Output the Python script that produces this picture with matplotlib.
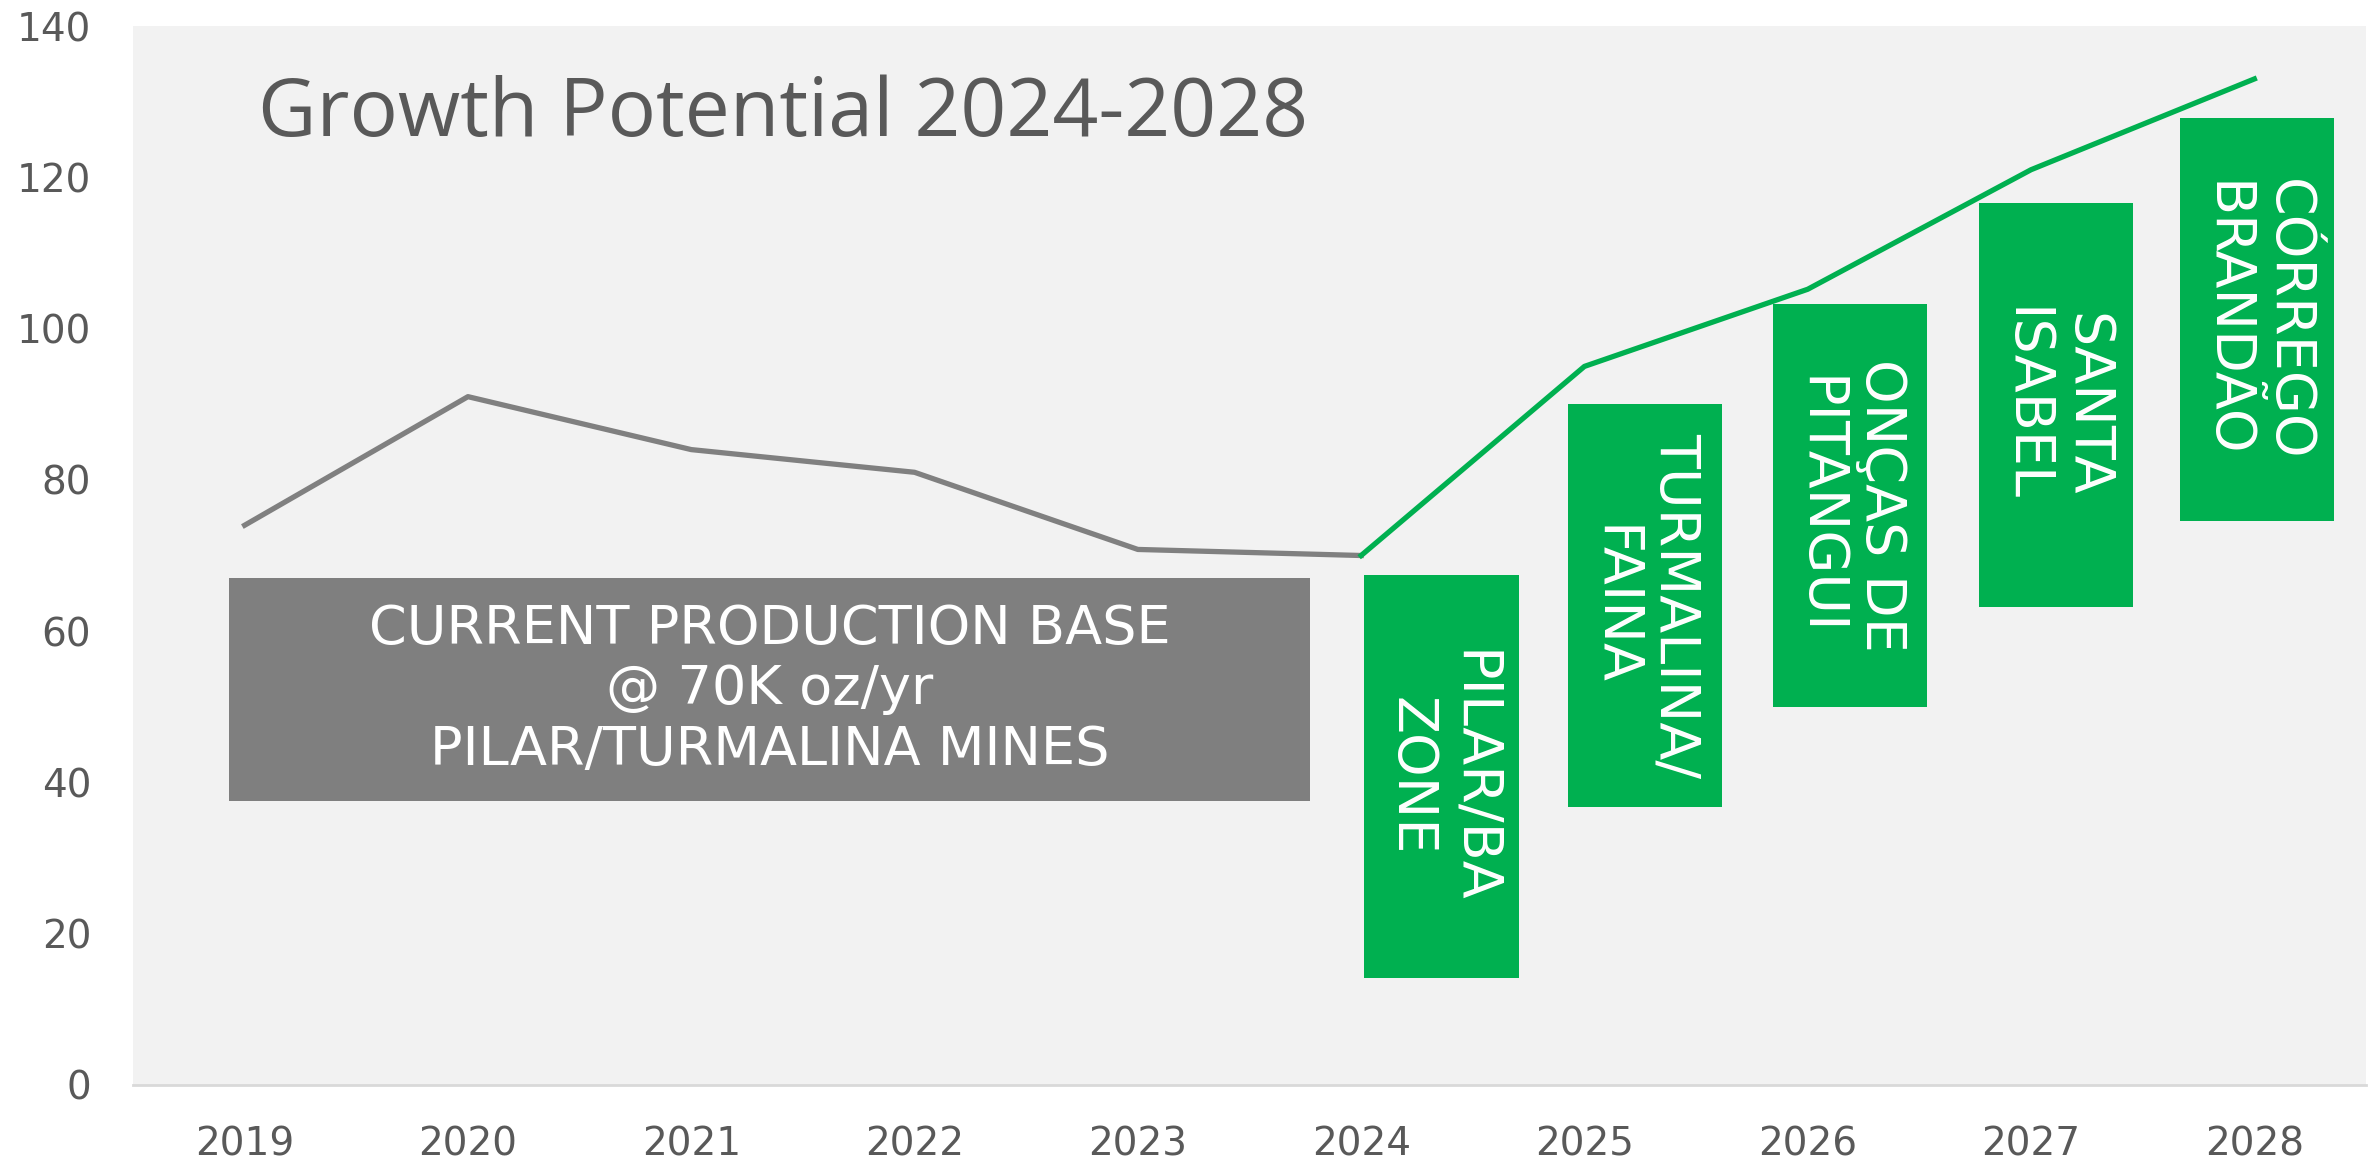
import numpy as np
import matplotlib
matplotlib.use("Agg")
import matplotlib.pyplot as plt
from matplotlib.patches import Rectangle

plt.rcParams['font.family'] = ['DejaVu Sans']

years = ['2019', '2020', '2021', '2022', '2023', '2024', '2025', '2026', '2027', '2028']
current = [74, 91, 84, 81, 70.8, 70]          # 2019-2024
growth = [70, 95, 105.2, 121, 133]             # 2024-2028

# project boxes: centre (in category units), bottom, top
proj_names = ['PILAR/BA\nZONE', 'TURMALINA/\nFAINA', 'ONÇAS DE\nPITANGUI',
              'SANTA\nISABEL', 'CÓRREGO\nBRANDÃO']
proj_x = [5.36, 6.27, 7.19, 8.11, 9.01]
proj_lo = [14.2, 36.8, 50.0, 63.2, 74.6]
proj_hi = [67.4, 90.0, 103.2, 116.6, 127.8]

base_label = 'CURRENT PRODUCTION BASE\n@ 70K oz/yr\nPILAR/TURMALINA MINES'
base_x = (-0.07, 4.77)
base_y = (37.6, 67.0)

GREEN = '#00b050'
GREY = '#808080'
TXT = '#595959'

fig = plt.figure(figsize=(23.74, 11.61), dpi=100)
ax = fig.add_axes([133 / 2374, 1 - 1085 / 1161, 2233 / 2374, 1059 / 1161])
ax.set_facecolor('#f2f2f2')

x = np.arange(len(years))
ax.plot(x[:6], current, color=GREY, lw=3.8, zorder=3)
ax.plot(x[5:], growth, color=GREEN, lw=3.8, zorder=3)

ax.add_patch(Rectangle((base_x[0], base_y[0]), base_x[1] - base_x[0], base_y[1] - base_y[0],
                       facecolor='#7f7f7f', edgecolor='none', zorder=2))
ax.text(sum(base_x) / 2, sum(base_y) / 2, base_label, ha='center', va='center',
        color='white', fontsize=39, linespacing=1.2, zorder=4)

w = 0.69
for name, cx, lo, hi in zip(proj_names, proj_x, proj_lo, proj_hi):
    ax.add_patch(Rectangle((cx - w / 2, lo), w, hi - lo, facecolor=GREEN,
                           edgecolor='none', zorder=2))
    ax.text(cx, (lo + hi) / 2, name, rotation=-90, ha='center', va='center',
            rotation_mode='anchor', multialignment='center',
            color='white', fontsize=40, linespacing=1.2, zorder=4)

ax.text(0.056, 0.896, 'Growth Potential 2024-2028', transform=ax.transAxes,
        ha='left', va='baseline', fontsize=58, color=TXT, family='Open Sans')

ax.set_xlim(-0.5, 9.5)
ax.set_ylim(0, 140)
ax.set_xticks(x)
ax.set_xticklabels(years)
ax.set_yticks(np.arange(0, 141, 20))
ax.tick_params(axis='both', length=0, labelsize=28, colors=TXT)
ax.tick_params(axis='x', pad=29)
ax.tick_params(axis='y', pad=30)
for s in ['top', 'right', 'left']:
    ax.spines[s].set_visible(False)
ax.spines['bottom'].set_color('#d9d9d9')
ax.spines['bottom'].set_linewidth(2)

fig.savefig('out.png', dpi=100, facecolor='white')
